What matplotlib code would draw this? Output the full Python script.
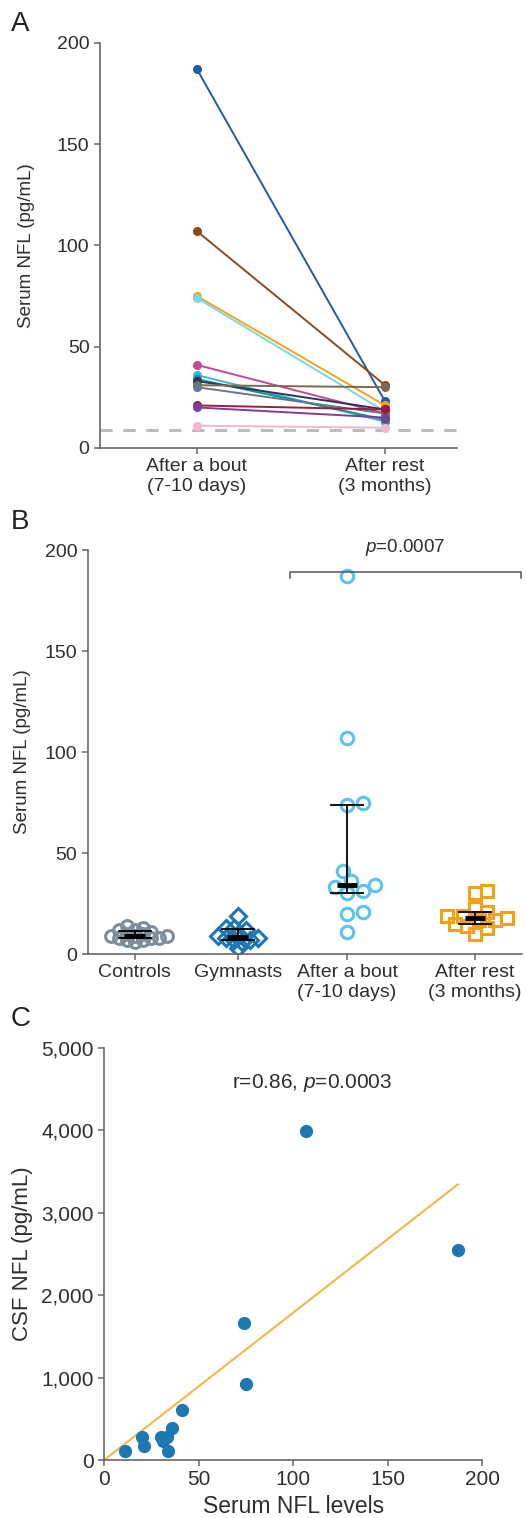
import numpy as np
import matplotlib
matplotlib.use("Agg")
import matplotlib.pyplot as plt

plt.rcParams['font.family'] = ['Liberation Sans', 'DejaVu Sans']
plt.rcParams['mathtext.fontset'] = 'custom'
plt.rcParams['mathtext.rm'] = 'Liberation Sans'
plt.rcParams['mathtext.it'] = 'Liberation Sans:italic'

# ---- data ----
athlete_colors = ['#1f5ba6', '#8c4a1e', '#f2a31b', '#7fd6df', '#c2489c', '#3cb8cc',
                  '#1b938c', '#2b3560', '#7b6a4e', '#66768a', '#9c1c3c', '#7a3f9c', '#f4b6cc']
bout_nfl = [187, 107, 75, 74, 41, 36, 34, 33, 31, 30, 21, 20, 11]
rest_nfl = [23, 31, 21, 18, 17, 13, 14, 19, 30, 17, 19, 15, 10]
csf_nfl = [2545, 3990, 921, 1665, 606, 389, 115, 274, 225, 274, 176, 274, 115]
controls_nfl = [6, 7, 7, 8, 8, 8, 9, 9, 9, 10, 10, 11, 12, 12, 13, 14]
gymnasts_nfl = [3, 6, 7, 7, 8, 8, 9, 10, 12, 13, 13, 19]
ref_level = 9

timepoints = ['After a bout\n(7-10 days)', 'After rest\n(3 months)']
groups = ['Controls', 'Gymnasts', 'After a bout\n(7-10 days)', 'After rest\n(3 months)']
p_text_b = '$\\mathit{p}$=0.0007'
r_text_c = 'r=0.86, $\\mathit{p}$=0.0003'

txt = '#2e2e2e'
spine = '#666666'


def style(ax, fs):
    for s in ['top', 'right']:
        ax.spines[s].set_visible(False)
    for s in ['left', 'bottom']:
        ax.spines[s].set_color(spine)
        ax.spines[s].set_linewidth(1.2)
    ax.tick_params(direction='out', length=4, width=1.1, color=spine,
                   labelsize=fs, labelcolor=txt)


def swarm(values, diam, ypx, xpx, overlap):
    # simple beeswarm: offsets in data units, markers may overlap a bit
    values = np.asarray(values, float)
    placed = []
    offs = np.zeros(len(values))
    steps = [0.0]
    for k in range(1, 40):
        steps += [k * diam / 3, -k * diam / 3]
    for i in np.argsort(values):
        y = values[i] * ypx
        for c in steps:
            if all((c - px) ** 2 + (y - py) ** 2 >= (overlap * diam) ** 2 for px, py in placed):
                break
        placed.append((c, y))
        offs[i] = c / xpx
    return offs


fig = plt.figure(figsize=(5.26, 15.18), dpi=100)

# ---------------- A ----------------
axA = fig.add_axes([0.190, 0.7049, 0.679, 0.2668])
xA = [0, 1]
axA.axhline(ref_level, color='#bbbbbb', lw=2.2, ls=(0, (4, 3.5)), zorder=1)
for b, r, c in zip(bout_nfl, rest_nfl, athlete_colors):
    axA.plot(xA, [b, r], color=c, lw=1.4, marker='o', ms=5.5, zorder=3)
axA.set_xlim(-0.516, 1.383)
axA.set_ylim(0, 200)
axA.set_yticks([0, 50, 100, 150, 200])
axA.set_xticks(xA)
axA.set_xticklabels(timepoints)
axA.set_ylabel('Serum NFL (pg/mL)', fontsize=13.5, color=txt, labelpad=16)
style(axA, 14)

# ---------------- B ----------------
axB = fig.add_axes([0.167, 0.3715, 0.825, 0.2661])
xB = [0, 0.99, 2.04, 3.27]
xpx, ypx = 104.0, 2.02
styles = [
    (controls_nfl, 'o', '#7c8d9c', 8.5, 0.5),
    (gymnasts_nfl, 'D', '#1b78b2', 8.0, 0.6),
    (bout_nfl, 'o', '#5cc3ea', 9.0, 1.05),
    (rest_nfl, 's', '#f0a30a', 8.5, 0.85),
]
for x0, (vals, mk, col, ms, ov) in zip(xB, styles):
    offs = swarm(vals, 12.0, ypx, xpx, ov)
    axB.plot(x0 + offs, vals, ls='none', marker=mk, ms=ms, mfc='none',
             mec=col, mew=2.2, zorder=2)
    q1, med, q3 = np.percentile(vals, [25, 50, 75])
    axB.plot([x0, x0], [q1, q3], color='black', lw=1.3, zorder=4)
    axB.plot([x0 - 0.155, x0 + 0.155], [q1, q1], color='black', lw=1.3, zorder=4)
    axB.plot([x0 - 0.155, x0 + 0.155], [q3, q3], color='black', lw=1.3, zorder=4)
    axB.plot([x0 - 0.1, x0 + 0.1], [med, med], color='black', lw=3.5,
             solid_capstyle='butt', zorder=5)

# significance bracket
axB.plot([1.49, 1.49, 3.71, 3.71], [186, 189, 189, 186], color='#555555', lw=1.1,
         clip_on=False)
axB.text(2.6, 196, p_text_b, ha='center', va='bottom', fontsize=13.5, color=txt)
axB.set_xlim(-0.452, 3.72)
axB.set_ylim(0, 200)
axB.set_yticks([0, 50, 100, 150, 200])
axB.set_xticks(xB)
axB.set_xticklabels(groups)
axB.set_ylabel('Serum NFL (pg/mL)', fontsize=13.5, color=txt, labelpad=10)
style(axB, 14)

# ---------------- C ----------------
axC = fig.add_axes([0.198, 0.0382, 0.719, 0.2714])
xs = np.array(bout_nfl, float)
ys = np.array(csf_nfl, float)
slope = np.sum(xs * ys) / np.sum(xs * xs)
xl = np.array([0, xs.max()])
axC.plot(xl, slope * xl, color='#f0b846', lw=1.5, zorder=2)
axC.plot(xs, ys, ls='none', marker='o', ms=8.5, color='#1b78b2', zorder=3)
axC.text(110, 4570, r_text_c, ha='center', va='center', fontsize=15, color=txt)
axC.set_xlim(0, 200)
axC.set_ylim(0, 5000)
axC.set_xticks([0, 50, 100, 150, 200])
axC.set_yticks([0, 1000, 2000, 3000, 4000, 5000])
axC.set_yticklabels(['0', '1,000', '2,000', '3,000', '4,000', '5,000'])
axC.set_xlabel('Serum NFL levels', fontsize=16.5, color=txt)
axC.set_ylabel('CSF NFL (pg/mL)', fontsize=16, color=txt, labelpad=6)
style(axC, 15)

# panel letters
fig.text(0.02, 0.993, 'A', fontsize=20, color='#222222', va='top')
fig.text(0.02, 0.665, 'B', fontsize=20, color='#222222', va='top')
fig.text(0.02, 0.337, 'C', fontsize=20, color='#222222', va='top')

fig.savefig('out.png', dpi=100)
